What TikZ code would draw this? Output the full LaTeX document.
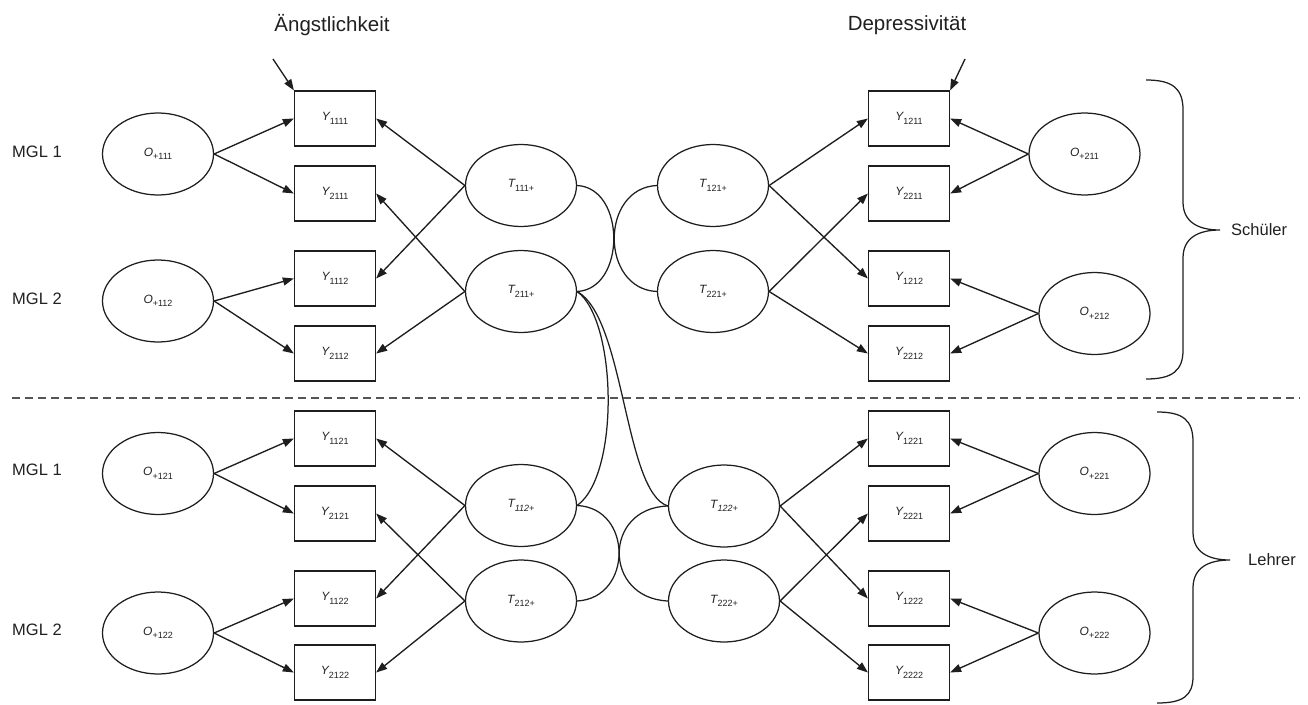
\documentclass[tikz,border=0pt]{standalone}
\usepackage{fontspec}
\setmainfont{Liberation Sans}
\usetikzlibrary{shapes.geometric,arrows.meta}

\definecolor{linec}{HTML}{1E1E1E}
\definecolor{textc}{HTML}{202020}
\definecolor{dashc}{HTML}{555555}

% variable name with lowered index
\newcommand{\varlab}[2]{{\fontsize{12}{12}\selectfont\itshape #1}\raisebox{-3.5pt}{\fontsize{9}{9}\selectfont #2}}

\tikzset{
  latent/.style={ellipse, draw=linec, line width=1.25pt, minimum width=111pt,
                 minimum height=82pt, inner sep=0pt, text=textc},
  manifest/.style={rectangle, draw=linec, line width=1.25pt, minimum width=81pt,
                   minimum height=55pt, inner sep=0pt, text=textc},
  loading/.style={draw=linec, line width=1.35pt, -{Triangle[length=11pt,width=8pt]}},
  corr/.style={draw=linec, line width=1.25pt},
  grplabel/.style={font=\fontsize{16.5}{20}\selectfont, text=textc, anchor=west, inner sep=0pt},
  headlabel/.style={font=\fontsize{20.5}{24}\selectfont, text=textc, inner sep=0pt},
  bracepath/.style={draw=linec, line width=1.25pt},
  separator/.style={draw=dashc, line width=1.3pt, dash pattern=on 8pt off 5pt}
}

\begin{document}
\begin{tikzpicture}[x=1pt,y=-1pt]
\useasboundingbox (0,0) rectangle (1308,704);

% headings and group labels
\node[headlabel] (hA) at (332,25) {Ängstlichkeit};
\node[headlabel] (hD) at (907,25) {Depressivität};
\node[grplabel] (m11) at (12,152) {MGL 1};
\node[grplabel] (m12) at (12,299) {MGL 2};
\node[grplabel] (m21) at (12,470) {MGL 1};
\node[grplabel] (m22) at (12,630) {MGL 2};

% method factors, left
\node[latent] (O111) at (158,154)   {\varlab{O}{+111}};
\node[latent] (O112) at (158,301)   {\varlab{O}{+112}};
\node[latent] (O121) at (158,473.5) {\varlab{O}{+121}};
\node[latent] (O122) at (158,633)   {\varlab{O}{+122}};

% indicators, left
\node[manifest] (Y1111) at (335,118.5) {\varlab{Y}{1111}};
\node[manifest] (Y2111) at (335,193.5) {\varlab{Y}{2111}};
\node[manifest] (Y1112) at (335,278.5) {\varlab{Y}{1112}};
\node[manifest] (Y2112) at (335,353.5) {\varlab{Y}{2112}};
\node[manifest] (Y1121) at (335,438.5) {\varlab{Y}{1121}};
\node[manifest] (Y2121) at (335,513.5) {\varlab{Y}{2121}};
\node[manifest] (Y1122) at (335,598.5) {\varlab{Y}{1122}};
\node[manifest] (Y2122) at (335,672.5) {\varlab{Y}{2122}};

% trait factors
\node[latent] (T111) at (521,185.5) {\varlab{T}{111+}};
\node[latent] (T211) at (521,291.5) {\varlab{T}{211+}};
\node[latent] (T112) at (521,505.5) {\varlab{T}{\itshape 112+}};
\node[latent] (T212) at (521,601)   {\varlab{T}{212+}};
\node[latent] (T121) at (713,185.5) {\varlab{T}{121+}};
\node[latent] (T221) at (713,291.5) {\varlab{T}{221+}};
\node[latent] (T122) at (724,506)   {\varlab{T}{\itshape 122+}};
\node[latent] (T222) at (724,601)   {\varlab{T}{222+}};

% indicators, right
\node[manifest] (Y1211) at (909,118.5) {\varlab{Y}{1211}};
\node[manifest] (Y2211) at (909,193.5) {\varlab{Y}{2211}};
\node[manifest] (Y1212) at (909,278.5) {\varlab{Y}{1212}};
\node[manifest] (Y2212) at (909,353.5) {\varlab{Y}{2212}};
\node[manifest] (Y1221) at (909,438.5) {\varlab{Y}{1221}};
\node[manifest] (Y2221) at (909,513.5) {\varlab{Y}{2221}};
\node[manifest] (Y1222) at (909,598.5) {\varlab{Y}{1222}};
\node[manifest] (Y2222) at (909,672.5) {\varlab{Y}{2222}};

% method factors, right
\node[latent] (O211) at (1084.5,154)   {\varlab{O}{+211}};
\node[latent] (O212) at (1094.5,313.5) {\varlab{O}{+212}};
\node[latent] (O221) at (1094.5,473.5) {\varlab{O}{+221}};
\node[latent] (O222) at (1094.5,633)   {\varlab{O}{+222}};

% method loadings, left
\draw[loading] (O111.east) -- (Y1111.west);
\draw[loading] (O111.east) -- (Y2111.west);
\draw[loading] (O112.east) -- (Y1112.west);
\draw[loading] (O112.east) -- (Y2112.west);
\draw[loading] (O121.east) -- (Y1121.west);
\draw[loading] (O121.east) -- (Y2121.west);
\draw[loading] (O122.east) -- (Y1122.west);
\draw[loading] (O122.east) -- (Y2122.west);

% trait loadings, left
\draw[loading] (T111.west) -- (Y1111.east);
\draw[loading] (T111.west) -- (Y1112.east);
\draw[loading] (T211.west) -- (Y2111.east);
\draw[loading] (T211.west) -- (Y2112.east);
\draw[loading] (T112.west) -- (Y1121.east);
\draw[loading] (T112.west) -- (Y1122.east);
\draw[loading] (T212.west) -- (Y2121.east);
\draw[loading] (T212.west) -- (Y2122.east);

% trait loadings, right
\draw[loading] (T121.east) -- (Y1211.west);
\draw[loading] (T121.east) -- (Y1212.west);
\draw[loading] (T221.east) -- (Y2211.west);
\draw[loading] (T221.east) -- (Y2212.west);
\draw[loading] (T122.east) -- (Y1221.west);
\draw[loading] (T122.east) -- (Y1222.west);
\draw[loading] (T222.east) -- (Y2221.west);
\draw[loading] (T222.east) -- (Y2222.west);

% method loadings, right
\draw[loading] (O211.west) -- (Y1211.east);
\draw[loading] (O211.west) -- (Y2211.east);
\draw[loading] (O212.west) -- (Y1212.east);
\draw[loading] (O212.west) -- (Y2212.east);
\draw[loading] (O221.west) -- (Y1221.east);
\draw[loading] (O221.west) -- (Y2221.east);
\draw[loading] (O222.west) -- (Y1222.east);
\draw[loading] (O222.west) -- (Y2222.east);

% residual arrows
\coordinate (eA) at (273,59);
\coordinate (eD) at (965,59);
\draw[loading] (eA) -- (Y1111.north west);
\draw[loading] (eD) -- (Y1211.north east);

% trait correlations
\draw[corr] (T111.east) .. controls (626,188) and (626,289) .. (T211.east);
\draw[corr] (T121.west) .. controls (600,188) and (600,289) .. (T221.west);
\draw[corr] (T112.east) .. controls (633,508) and (633,598) .. (T212.east);
\draw[corr] (T122.west) .. controls (603,508) and (603,598) .. (T222.west);
\draw[corr] (T211.east) .. controls (617,320) and (620,475) .. (T112.east);
\draw[corr] (T211.east) .. controls (625,318) and (624,492) .. (T122.west);

% separator between rater groups
\coordinate (sepL) at (12,398);
\coordinate (sepR) at (1300,398);
\draw[separator] (sepL) -- (sepR);

% group braces
\draw[bracepath] (1146,80) .. controls (1172,80) and (1183,88) .. (1183,110)
  -- (1183,202) .. controls (1183,222) and (1198,230) .. (1220,230)
  .. controls (1198,230) and (1183,238) .. (1183,258)
  -- (1183,350) .. controls (1183,371) and (1172,379) .. (1146,379);
\node[grplabel] (gS) at (1231,230) {Schüler};

\draw[bracepath] (1157,412) .. controls (1183,412) and (1193,420) .. (1193,442)
  -- (1193,532) .. controls (1193,552) and (1208,560) .. (1230,560)
  .. controls (1208,560) and (1193,568) .. (1193,588)
  -- (1193,676) .. controls (1193,696) and (1183,703) .. (1157,703);
\node[grplabel] (gL) at (1248,560) {Lehrer};
\end{tikzpicture}
\end{document}
